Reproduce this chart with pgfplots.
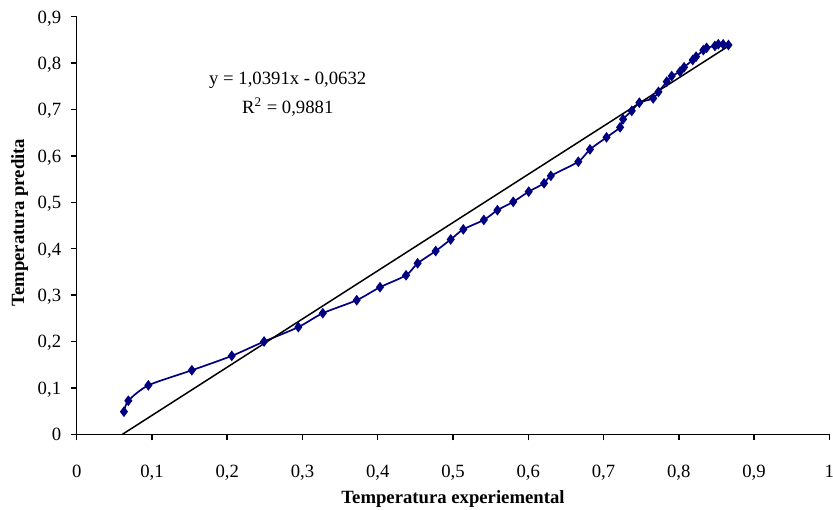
\documentclass[border=0pt]{standalone}
\usepackage{fontspec}
\setmainfont{Liberation Serif}
\usepackage{pgfplots}
\pgfplotsset{compat=1.18}
\definecolor{navyline}{RGB}{0,0,128}
\begin{document}
\fontsize{9.35bp}{11bp}\selectfont
\begin{tikzpicture}
\begin{axis}[
  name=ax,
  scale only axis,
  width=376.3bp, height=208.8bp,
  xmin=0, xmax=1, ymin=0, ymax=0.9,
  axis x line*=bottom, axis y line*=left,
  axis line style={line width=0.75bp, black},
  xtick={0,0.1,0.2,0.3,0.4,0.5,0.6,0.7,0.8,0.9,1},
  ytick={0,0.1,0.2,0.3,0.4,0.5,0.6,0.7,0.8,0.9},
  tick align=outside,
  major tick length=3bp,
  tick style={line width=0.75bp, black},
  /pgf/number format/.cd, use comma, fixed, precision=1, assume math mode=true,
  /pgfplots/.cd,
  xticklabel style={anchor=base, inner sep=0pt, yshift=-18.5bp, font=\fontsize{9.35bp}{11bp}\selectfont},
  yticklabel style={anchor=base east, inner sep=0pt, xshift=-4.6bp, yshift=-3.2bp, font=\fontsize{9.35bp}{11bp}\selectfont},
  xlabel={\textbf{Temperatura experiemental}},
  ylabel={\textbf{Temperatura predita}},
  xlabel style={at={(axis description cs:0.5,0)}, anchor=base, inner sep=0pt, yshift=-34.5bp, font=\fontsize{9.35bp}{11bp}\selectfont},
  ylabel style={at={([xshift=-28.5bp]axis description cs:0,0.507)}, anchor=center, inner sep=0pt, font=\fontsize{9.35bp}{11bp}\selectfont},
  clip=false,
]
\addplot[navyline, line width=0.85bp, smooth, tension=0.45,
  mark=diamond*, mark size=2bp, mark options={solid, fill=navyline, draw=navyline}]
  coordinates {
(0.0628,0.0487)
(0.0686,0.0724)
(0.0952,0.1055)
(0.153,0.138)
(0.206,0.169)
(0.249,0.200)
(0.2945,0.231)
(0.327,0.261)
(0.372,0.289)
(0.403,0.317)
(0.4376,0.3427)
(0.453,0.3685)
(0.477,0.395)
(0.497,0.420)
(0.5137,0.4417)
(0.541,0.462)
(0.559,0.483)
(0.580,0.501)
(0.6006,0.523)
(0.621,0.541)
(0.630,0.557)
(0.6665,0.5875)
(0.682,0.614)
(0.704,0.640)
(0.722,0.6616)
(0.726,0.679)
(0.7375,0.697)
(0.7476,0.7147)
(0.766,0.724)
(0.773,0.738)
(0.784,0.760)
(0.7906,0.772)
(0.8016,0.7815)
(0.807,0.791)
(0.8185,0.8067)
(0.823,0.8138)
(0.8326,0.828)
(0.837,0.833)
(0.848,0.837)
(0.8525,0.8405)
(0.859,0.8405)
(0.866,0.839)
};
\addplot[black, line width=0.75bp] coordinates {(0.0608,0) (0.8660,0.8367)};
\node[anchor=center, inner sep=0pt] at (axis cs:0.2804,0.762) {y = 1,0391x - 0,0632};
\node[anchor=center, inner sep=0pt] at (axis cs:0.2804,0.705) {R\textsuperscript{2} = 0,9881};
\end{axis}
\pgfresetboundingbox
\path (ax.south west) ++(-38.35bp,-37.85bp) rectangle ++(416.5bp,255bp);
\end{tikzpicture}
\end{document}
